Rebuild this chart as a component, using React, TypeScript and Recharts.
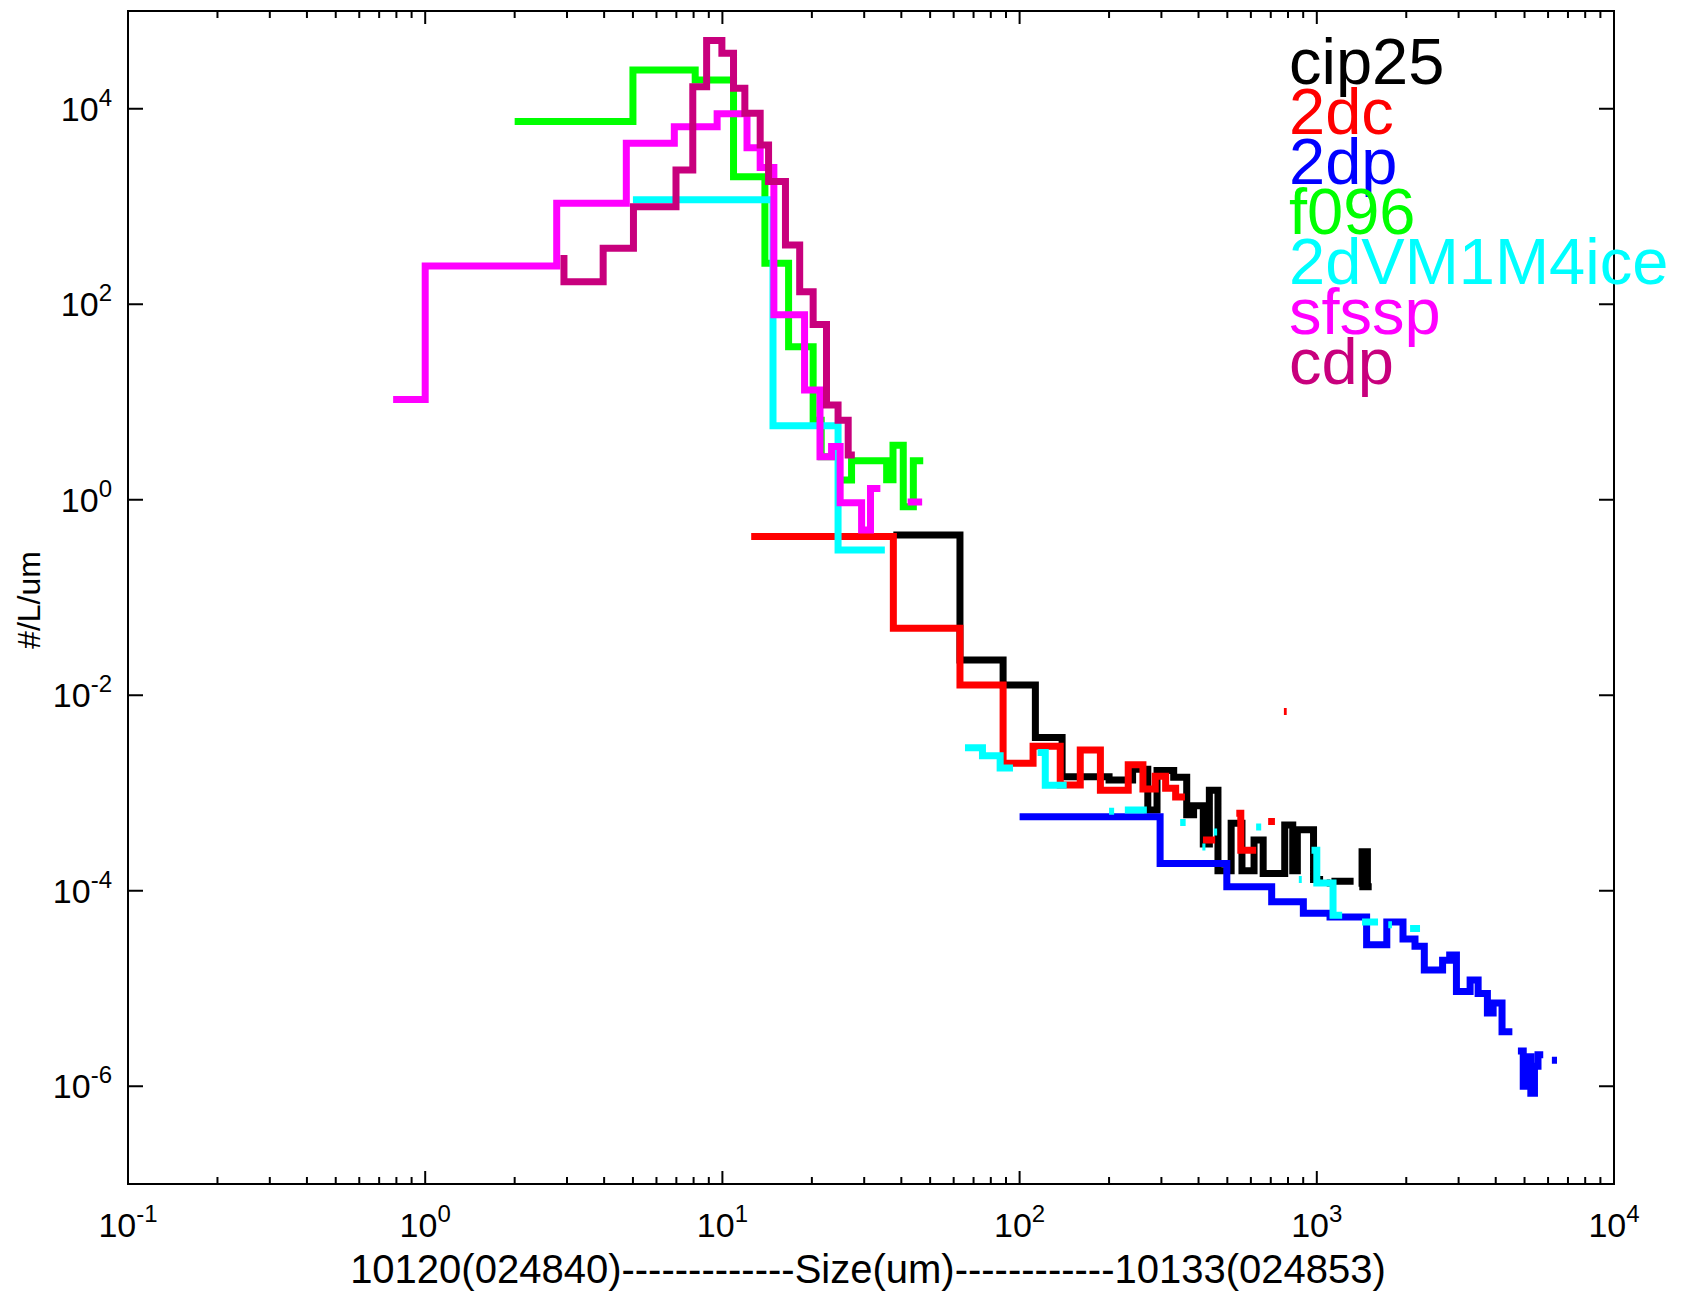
import React from 'react';
import { LineChart, Line, XAxis, YAxis, ReferenceArea, Legend } from 'recharts';

const FONT = '"Liberation Sans", Arial, Helvetica, sans-serif';

// bin edges (um) and #/L/um per bin; null = empty bin (gap on the log plot)
const cip25Edges = [37.6, 63, 88, 113, 139, 200, 240, 270, 290, 330, 365, 385, 415, 435, 465, 515, 560, 615, 660, 780, 830, 860, 975, 1050, 1080, 1110, 1120, 1330, 1390, 1420, 1480, 1530];
const cip25Values = [0.436, 0.023, 0.0127, 0.0037, 0.00147, 0.00136, 0.00175, 0.00067, 0.0017, 0.00145, 0.0006, 0.00074, 0.0003, 0.00107, 0.00016, 0.00049, 0.00016, 0.00033, 0.00015, 0.00047, 0.00016, 0.00042, 0.00013, null, 0.00012, null, 0.000125, null, 0.00011, 0.00025, 0.00011];

const dc2Edges = [12.5, 37.6, 63, 88, 111, 137, 160, 187, 232, 260, 286, 310, 335, 360, 414, 455, 536, 555, 625, 686, 723, 775, 792];
const dc2Values = [0.42, 0.0484, 0.0127, 0.00201, 0.003, 0.00121, 0.00276, 0.00107, 0.00194, 0.0011, 0.00148, 0.00112, 0.00091, null, 0.00033, null, 0.00062, 0.00026, null, 0.00051, null, 0.0068];

const dp2Edges = [100, 297, 498, 705, 901, 1108, 1471, 1720, 1950, 2140, 2300, 2650, 2800, 2950, 3280, 3490, 3750, 3920, 4200, 4550, 4750, 4950, 5100, 5250, 5400, 5550, 5780, 6180, 6430];
const dp2Values = [5.7e-4, 1.9e-4, 1.1e-4, 7.7e-5, 5.9e-5, 5.4e-5, 2.8e-5, 4.8e-5, 3.2e-5, 2.7e-5, 1.55e-5, 1.95e-5, 2.2e-5, 9.3e-6, 1.22e-5, 8.9e-6, 5.6e-6, 7.1e-6, 3.6e-6, null, 2.3e-6, 1.0e-6, 2.0e-6, 8.5e-7, 1.6e-6, 2.1e-6, null, 1.85e-6];

const f096Edges = [2, 5, 8.1, 10.9, 13.9, 16.7, 20.2, 21.5, 24.6, 27.2, 35.7, 37.5, 40.6, 43.9, 47.4];
const f096Values = [7400, 24900, 19700, 2020, 262, 36.8, 6.5, 2.75, 1.59, 2.5, 1.6, 3.6, 0.85, 2.5];

const iceEdges = [5, 14.8, 24.5, 35.2, 65.5, 75, 86, 95, 115, 122, 144, 200, 208, 226, 268, 347, 362, 412, 422, 450, 462, 625, 650, 870, 890, 960, 1000, 1134, 1217, 1420, 1607, 1740, 1790, 2060, 2225];
const iceValues = [1170, 5.7, 0.306, null, 0.0029, 0.0024, 0.0018, null, 0.0026, 0.0012, null, 0.00065, null, 0.00067, null, 0.0005, null, 0.00028, null, 0.0004, null, 0.00045, null, 0.00013, null, 0.00026, 0.00012, 5.6e-5, null, 4.8e-5, null, 4.5e-5, null, 4.1e-5];

const sfsspEdges = [0.78, 1.0, 2.77, 4.75, 6.89, 9.6, 12.1, 13.4, 14.9, 18.9, 21.3, 23.3, 24.9, 29.4, 31.5, 34, 42, 47];
const sfsspValues = [10.6, 246, 1077, 4430, 6560, 8900, 4000, 2500, 78, 13.3, 2.75, 3.5, 0.93, 0.49, 1.3, null, 0.95];

const cdpEdges = [2.93, 2.93, 3.97, 5.02, 6.98, 7.95, 8.85, 9.96, 10.9, 11.9, 13.4, 14.3, 16.3, 18.2, 20.2, 22.4, 24.5, 26.5, 27.9];
const cdpValues = [319, 170, 373, 995, 2360, 16800, 50000, 37000, 16200, 9000, 4260, 1800, 404, 134, 62, 9.3, 6.5, 2.87];

const xDecades = [0.1, 1, 10, 100, 1000];
const xMantissas = [1, 2, 3, 4, 5, 6, 7, 8, 9];
const yTicks = [1e-6, 1e-4, 1e-2, 1, 1e2, 1e4];

const xLabel = '10120(024840)-------------Size(um)------------10133(024853)';
const yLabel = '#/L/um';

const W = 1685;
const H = 1294;
const PLOT_W = 1486;
const PLOT_H = 1173;

const xTicks = [...xDecades.flatMap(d => xMantissas.map(m => +(m * d).toPrecision(6))), 10000];

// histogram bins -> step vertices for a stepAfter line
function toSteps(edges: number[], values: (number | null)[]) {
  const pts: { x: number; y: number | null }[] = [];
  for (let i = 0; i < values.length; i++) {
    const v = values[i];
    if (v == null) {
      pts.push({ x: edges[i], y: null });
      continue;
    }
    pts.push({ x: edges[i], y: v });
    if (values[i + 1] == null) pts.push({ x: edges[i + 1], y: v });
  }
  return pts;
}

const series = [
  { name: 'cip25', color: '#000000', data: toSteps(cip25Edges, cip25Values) },
  { name: '2dc', color: '#ff0000', data: toSteps(dc2Edges, dc2Values) },
  { name: '2dp', color: '#0000ff', data: toSteps(dp2Edges, dp2Values) },
  { name: 'f096', color: '#00ff00', data: toSteps(f096Edges, f096Values) },
  { name: '2dVM1M4ice', color: '#00ffff', data: toSteps(iceEdges, iceValues) },
  { name: 'sfssp', color: '#ff00ff', data: toSteps(sfsspEdges, sfsspValues) },
  { name: 'cdp', color: '#c8007d', data: toSteps(cdpEdges, cdpValues) },
];
const seriesOrder = series.map(s => s.name);

function XTick(props: any) {
  const { x, y, payload } = props;
  const lg = Math.log10(payload.value);
  const exp = Math.round(lg);
  const major = Math.abs(lg - exp) < 1e-6;
  const len = major ? 13 : 7;
  return (
    <g>
      <line x1={x} y1={y} x2={x} y2={y - len} stroke="#000" strokeWidth={2} />
      <line x1={x} y1={y - PLOT_H} x2={x} y2={y - PLOT_H + len} stroke="#000" strokeWidth={2} />
      {major && (
        <text x={x} y={y + 53} textAnchor="middle" fontFamily={FONT} fontSize={34} fill="#000">
          10<tspan dy={-15} fontSize={24}>{exp}</tspan>
        </text>
      )}
    </g>
  );
}

function YTick(props: any) {
  const { x, y, payload } = props;
  const exp = Math.round(Math.log10(payload.value));
  return (
    <g>
      <line x1={x} y1={y} x2={x + 15} y2={y} stroke="#000" strokeWidth={2} />
      <line x1={x + PLOT_W} y1={y} x2={x + PLOT_W - 15} y2={y} stroke="#000" strokeWidth={2} />
      <text x={x - 16} y={y + 12} textAnchor="end" fontFamily={FONT} fontSize={34} fill="#000">
        10<tspan dy={-15} fontSize={24}>{exp}</tspan>
      </text>
    </g>
  );
}

function LegendBlock(props: any) {
  const payload = [...(props.payload || [])].sort(
    (a: any, b: any) => seriesOrder.indexOf(a.value) - seriesOrder.indexOf(b.value)
  );
  return (
    <div style={{ fontFamily: FONT, fontSize: 65, lineHeight: '50px', whiteSpace: 'nowrap', textAlign: 'left' }}>
      {payload.map((e: any) => (
        <div key={e.value} style={{ color: e.color }}>{e.value}</div>
      ))}
    </div>
  );
}

export default function App() {
  return (
    <div style={{ position: 'absolute', left: 0, top: 0, background: '#fff' }}>
      <LineChart width={W} height={H} margin={{ top: 11, right: 71, bottom: 0, left: 0 }}>
        <XAxis
          type="number"
          dataKey="x"
          scale="log"
          domain={[0.1, 10000]}
          allowDataOverflow
          ticks={xTicks}
          interval={0}
          height={110}
          tickSize={0}
          tickMargin={0}
          tickLine={false}
          axisLine={false}
          tick={(p: any) => <XTick {...p} />}
          label={() => (
            <text x={868} y={1283} textAnchor="middle" fontFamily={FONT} fontSize={40} fill="#000">
              {xLabel}
            </text>
          )}
        />
        <YAxis
          type="number"
          scale="log"
          domain={[1e-7, 1e5]}
          allowDataOverflow
          ticks={yTicks}
          interval={0}
          width={128}
          tickSize={0}
          tickMargin={0}
          tickLine={false}
          axisLine={false}
          tick={(p: any) => <YTick {...p} />}
          label={() => (
            <text x={40} y={600} transform="rotate(-90 40 600)" textAnchor="middle" fontFamily={FONT} fontSize={32} fill="#000">
              {yLabel}
            </text>
          )}
        />
        <ReferenceArea x1={0.1} x2={10000} y1={1e-7} y2={1e5} fill="none" fillOpacity={0} stroke="#000" strokeWidth={2} ifOverflow="visible" />
        {series.map(s => (
          <Line
            key={s.name}
            data={s.data}
            dataKey="y"
            name={s.name}
            type="stepAfter"
            stroke={s.color}
            strokeWidth={7}
            strokeLinejoin="miter"
            strokeLinecap="butt"
            dot={false}
            activeDot={false}
            isAnimationActive={false}
          />
        ))}
        <Legend
          layout="vertical"
          align="center"
          verticalAlign="middle"
          content={LegendBlock}
          wrapperStyle={{ top: 37, left: 1289, width: 'auto', right: 'auto', bottom: 'auto' }}
        />
      </LineChart>
    </div>
  );
}
